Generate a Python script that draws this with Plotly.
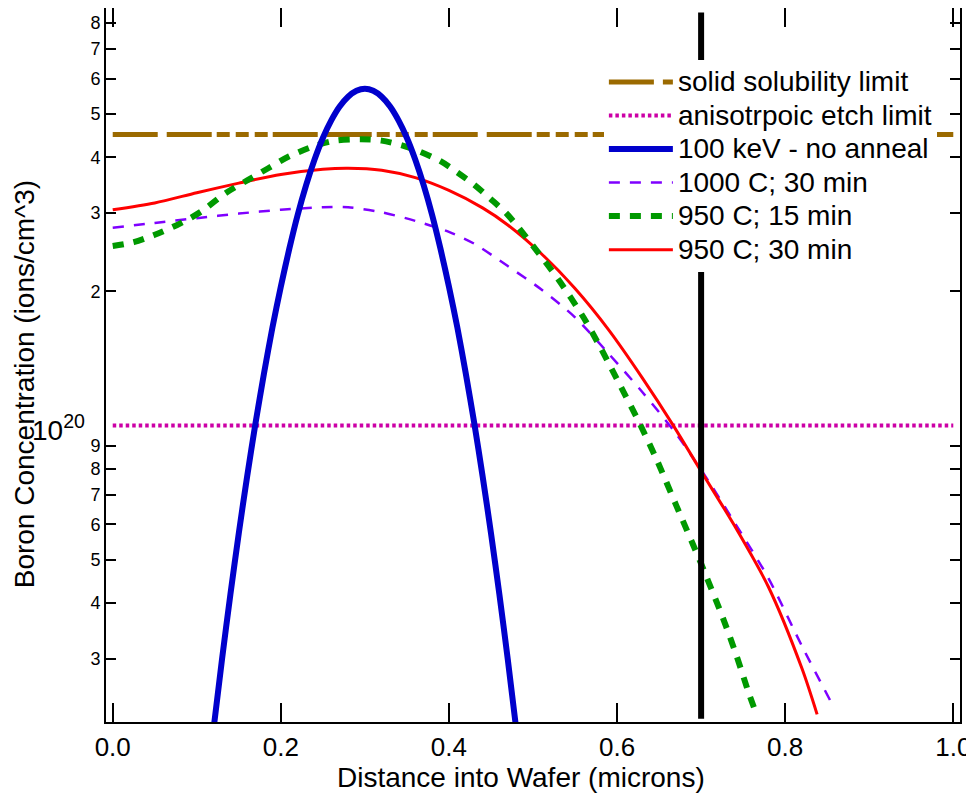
import plotly.graph_objects as go

# ---------------- data (concentrations in units of 1e20 ions/cm^3) ----------------
limit_x = [0.0, 1.0]
solid_solubility = [4.5, 4.5]
etch_limit = [1.0, 1.0]

x_noanneal = [0.12, 0.13, 0.14, 0.15, 0.16, 0.17, 0.18, 0.19, 0.20, 0.21, 0.22, 0.23,
              0.24, 0.25, 0.26, 0.27, 0.28, 0.29, 0.30, 0.31, 0.32, 0.33, 0.34, 0.35,
              0.36, 0.37, 0.38, 0.39, 0.40, 0.41, 0.42, 0.43, 0.44, 0.45, 0.46, 0.47, 0.48]
c_noanneal = [0.209, 0.299, 0.418, 0.574, 0.771, 1.016, 1.31, 1.66, 2.05, 2.49, 2.97, 3.46,
              3.95, 4.42, 4.84, 5.20, 5.47, 5.64, 5.70, 5.64, 5.47, 5.20, 4.84, 4.42,
              3.95, 3.46, 2.97, 2.49, 2.05, 1.66, 1.31, 1.016, 0.771, 0.574, 0.418, 0.299, 0.209]

x_1000_30 = [0.00, 0.05, 0.10, 0.15, 0.20, 0.25, 0.28, 0.32, 0.36, 0.40, 0.43, 0.47,
             0.51, 0.55, 0.59, 0.63, 0.67, 0.71, 0.74, 0.78, 0.82, 0.857]
c_1000_30 = [2.78, 2.85, 2.92, 2.99, 3.05, 3.09, 3.09, 3.01, 2.88, 2.72, 2.56, 2.28,
             2.02, 1.75, 1.45, 1.19, 0.96, 0.745, 0.605, 0.455, 0.32, 0.235]

x_950_15 = [0.00, 0.025, 0.05, 0.08, 0.105, 0.135, 0.16, 0.185, 0.21, 0.24, 0.265, 0.295,
            0.32, 0.345, 0.365, 0.39, 0.41, 0.43, 0.45, 0.47, 0.50, 0.53, 0.56, 0.58,
            0.60, 0.627, 0.647, 0.67, 0.70, 0.726, 0.742, 0.758, 0.766]
c_950_15 = [2.53, 2.58, 2.68, 2.84, 3.02, 3.33, 3.55, 3.78, 4.02, 4.24, 4.36, 4.39,
            4.36, 4.25, 4.12, 3.92, 3.70, 3.47, 3.22, 2.97, 2.53, 2.13, 1.75, 1.50,
            1.27, 1.01, 0.84, 0.665, 0.49, 0.37, 0.305, 0.247, 0.225]

x_950_30 = [0.00, 0.05, 0.10, 0.15, 0.20, 0.25, 0.28, 0.32, 0.36, 0.40, 0.44, 0.47,
            0.51, 0.55, 0.59, 0.63, 0.667, 0.70, 0.74, 0.78, 0.82, 0.838]
c_950_30 = [3.05, 3.16, 3.33, 3.50, 3.66, 3.76, 3.78, 3.74, 3.60, 3.37, 3.08, 2.82,
            2.43, 2.03, 1.64, 1.28, 1.00, 0.79, 0.595, 0.435, 0.285, 0.225]

marker_x = [0.7, 0.7]
marker_c = [0.22, 8.45]

y_tick_vals = [0.3, 0.4, 0.5, 0.6, 0.7, 0.8, 0.9, 2, 3, 4, 5, 6, 7, 8]
y_tick_text = ["3", "4", "5", "6", "7", "8", "9", "2", "3", "4", "5", "6", "7", "8"]
x_tick_vals = [0.0, 0.2, 0.4, 0.6, 0.8, 1.0]

SCALE = 1e20


def sc(vals):
    return [v * SCALE for v in vals]


def big(label):
    # legend text drawn a bit larger than the legend row pitch font
    return '<span style="font-size:28px">' + label + '</span>'


FONT = "Liberation Sans, Arial, Helvetica, sans-serif"

fig = go.Figure()

fig.add_trace(go.Scatter(
    x=limit_x, y=sc(solid_solubility), mode="lines", name=big("solid solubility limit"),
    line=dict(color="#9B6A00", width=5,
              dash="45px,9px,45px,5px,13px,6px,13px,6px,13px,5px"),
    legendrank=1))
fig.add_trace(go.Scatter(
    x=limit_x, y=sc(etch_limit), mode="lines", name=big("anisotrpoic etch limit"),
    line=dict(color="#CC00A6", width=4, dash="3.5px,3px"),
    legendrank=2))
fig.add_trace(go.Scatter(
    x=x_1000_30, y=sc(c_1000_30), mode="lines", name=big("1000 C; 30 min"),
    line=dict(color="#7F00FF", width=2.5, dash="11px,10px", shape="spline", smoothing=0.8),
    legendrank=4))
fig.add_trace(go.Scatter(
    x=x_950_30, y=sc(c_950_30), mode="lines", name=big("950 C; 30 min"),
    line=dict(color="#FF0000", width=3, shape="spline", smoothing=0.8),
    legendrank=6))
fig.add_trace(go.Scatter(
    x=x_950_15, y=sc(c_950_15), mode="lines", name=big("950 C; 15 min"),
    line=dict(color="#009900", width=6, dash="11px,10px", shape="spline", smoothing=0.8),
    legendrank=5))
fig.add_trace(go.Scatter(
    x=x_noanneal, y=sc(c_noanneal), mode="lines", name=big("100 keV - no anneal"),
    line=dict(color="#0000CC", width=6, shape="spline", smoothing=0.8),
    legendrank=3))
fig.add_trace(go.Scatter(
    x=marker_x, y=sc(marker_c), mode="lines", showlegend=False,
    line=dict(color="black", width=6)))

fig.update_layout(
    width=966, height=788,
    margin=dict(l=98, r=14, t=0, b=74, autoexpand=False),
    paper_bgcolor="white", plot_bgcolor="white",
    font=dict(family=FONT, color="black"),
    showlegend=True,
    legend=dict(x=0.583, y=0.927, xanchor="left", yanchor="top",
                bgcolor="white", borderwidth=0, itemwidth=64,
                font=dict(family=FONT, size=23.5, color="black"),
                tracegroupgap=0),
    xaxis=dict(range=[-0.008, 1.008], tickvals=x_tick_vals, tickformat=".1f",
               ticks="inside", ticklen=19, tickwidth=2, tickcolor="black",
               showline=True, linewidth=2, linecolor="black", mirror="ticks",
               showgrid=False, zeroline=False,
               tickfont=dict(family=FONT, size=26, color="black"),
               ticklabelstandoff=1),
    yaxis=dict(type="log", range=[19.335, 20.937],
               tickvals=sc(y_tick_vals), ticktext=y_tick_text,
               ticks="inside", ticklen=10, tickwidth=2, tickcolor="black",
               showline=True, linewidth=2, linecolor="black", mirror="ticks",
               showgrid=False, zeroline=False,
               tickfont=dict(family=FONT, size=18, color="black")),
    annotations=[
        dict(text="Distance into Wafer (microns)", xref="paper", yref="paper",
             x=0.486, y=-0.078, xanchor="center", yanchor="middle", showarrow=False,
             font=dict(family=FONT, size=28, color="black")),
        dict(text="Boron Concentration (ions/cm^3)", xref="paper", yref="paper",
             x=-0.096, y=0.473, xanchor="center", yanchor="middle", showarrow=False,
             textangle=-90, font=dict(family=FONT, size=28, color="black")),
        dict(text="10<sup>20</sup>", xref="paper", yref="y",
             x=-0.0222, y=20, xanchor="right", yanchor="middle", showarrow=False,
             yshift=-2, font=dict(family=FONT, size=28, color="black")),
    ],
)

fig.write_html("out.html")
